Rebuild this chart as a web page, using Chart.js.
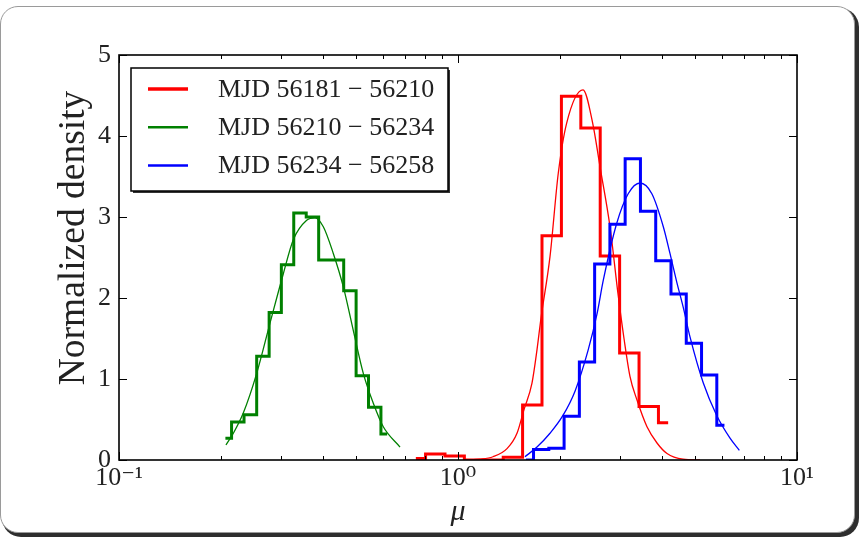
<!DOCTYPE html>
<html>
<head>
<meta charset="utf-8">
<script src="https://cdn.jsdelivr.net/npm/chart.js@4.4.0/dist/chart.umd.min.js"></script>
<style>
    html, body { margin: 0; padding: 0; background: #fff; }
    #wrap { position: relative; width: 861px; height: 540px; overflow: hidden; }
    #card {
        position: absolute; left: 0; top: 6px; width: 853px; height: 525px;
        border: 1px solid #9a9a9a; border-radius: 18px;
        box-shadow: 3px 3px 0 1px #2e2e2e; background: #fff;
    }
    canvas { position: absolute; left: 0; top: 0; }
</style>
</head>
<body>
<div id="wrap">
    <div id="card"></div>
    <canvas id="chart" width="861" height="540"></canvas>
</div>
<script>
// histogram bin centres (mu) and normalized density, step drawn at mid-points
const redCentres = [0.751, 0.857, 0.978, 1.115, 1.273, 1.452, 1.656, 1.890, 2.156, 2.460, 2.806, 3.202, 3.653, 4.168];
const redDensity = [0.02, 0.075, 0.05, 0, 0, 0.035, 0.68, 2.77, 4.49, 4.10, 2.52, 1.32, 0.66, 0.46];

const greenCentres = [0.206, 0.224, 0.244, 0.266, 0.289, 0.314, 0.342, 0.372, 0.405, 0.441, 0.480, 0.522, 0.568, 0.618];
const greenDensity = [0.27, 0.47, 0.56, 1.28, 1.82, 2.41, 3.05, 3.00, 2.47, 2.47, 2.09, 1.04, 0.65, 0.32];

const blueCentres = [1.586, 1.759, 1.952, 2.165, 2.402, 2.664, 2.955, 3.278, 3.637, 4.034, 4.475, 4.965, 5.507, 6.109];
const blueDensity = [0, 0.13, 0.145, 0.54, 1.21, 2.42, 2.91, 3.72, 3.07, 2.46, 2.05, 1.44, 1.05, 0.43];

// fitted curves
const redFitX = [1.056, 1.161, 1.268, 1.395, 1.493, 1.565, 1.653, 1.710, 1.757, 1.868, 1.976, 2.092, 2.338, 2.496, 2.624, 2.808, 2.965, 3.088, 3.217, 3.373, 3.610, 3.864, 4.136, 4.610, 5.174];
const redFitY = [0.0, 0.01, 0.04, 0.14, 0.33, 0.62, 0.95, 1.36, 1.75, 2.51, 3.54, 4.16, 4.57, 4.16, 3.62, 2.88, 2.05, 1.50, 1.03, 0.74, 0.41, 0.21, 0.08, 0.01, 0.0];

const greenFitX = [0.2068, 0.2174, 0.2326, 0.2548, 0.2789, 0.3053, 0.3267, 0.3578, 0.3786, 0.4006, 0.4287, 0.4588, 0.4910, 0.5256, 0.5626, 0.6020, 0.6745];
const greenFitY = [0.185, 0.33, 0.58, 1.07, 1.69, 2.30, 2.72, 2.96, 2.99, 2.88, 2.55, 2.14, 1.60, 1.07, 0.70, 0.41, 0.16];

const blueFitX = [1.576, 1.710, 1.868, 2.040, 2.214, 2.418, 2.570, 2.683, 2.938, 3.180, 3.443, 3.728, 4.033, 4.220, 4.417, 4.620, 4.835, 5.292, 5.797, 6.345, 6.759];
const blueFitY = [0.04, 0.16, 0.33, 0.55, 0.85, 1.35, 1.80, 2.22, 2.92, 3.29, 3.42, 3.29, 2.88, 2.55, 2.20, 1.88, 1.52, 0.95, 0.55, 0.27, 0.12];

const legendLabels = ["MJD 56181 \u2212 56210", "MJD 56210 \u2212 56234", "MJD 56234 \u2212 56258"];
const xTickValues = [0.1, 0.2, 0.3, 0.4, 0.5, 0.6, 0.7, 0.8, 0.9, 1, 2, 3, 4, 5, 6, 7, 8, 9, 10];
const xTickLabels = { 0.1: "10\u207B\u00B9", 1: "10\u2070", 10: "10\u00B9" };
const yTickValues = [0, 1, 2, 3, 4, 5];
const yTitle = "Normalized density";

const RED = "#ff0000", GREEN = "#008000", BLUE = "#0000ff";
const SERIF = "'Liberation Serif', 'DejaVu Serif', serif";

const pts = (xs, ys) => xs.map((x, i) => ({ x, y: ys[i] }));

function hist(data, color, order) {
    return {
        data, borderColor: color, borderWidth: 3, stepped: "middle",
        pointRadius: 0, fill: false, borderJoinStyle: "miter", order,
    };
}
function fit(data, color, label, legendWidth, order) {
    return {
        label, data, borderColor: color, borderWidth: 1.3,
        cubicInterpolationMode: "monotone", pointRadius: 0, fill: false,
        legendWidth, order,
    };
}

// frame, inward ticks, y label and the legend box (matplotlib look)
const framePlugin = {
    id: "frame",
    afterDatasetsDraw(chart) {
        const { ctx, chartArea: a, scales: { x, y } } = chart;
        ctx.save();
        ctx.strokeStyle = "#000";
        ctx.lineWidth = 1;
        ctx.beginPath();
        x.ticks.forEach(t => {
            const px = Math.round(x.getPixelForValue(t.value)) + 0.5;
            const major = xTickLabels[t.value] !== undefined;
            const len = major ? 8 : 4;
            ctx.moveTo(px, a.bottom); ctx.lineTo(px, a.bottom - len);
            ctx.moveTo(px, a.top); ctx.lineTo(px, a.top + len);
        });
        y.ticks.forEach(t => {
            const py = Math.round(y.getPixelForValue(t.value)) + 0.5;
            ctx.moveTo(a.left, py); ctx.lineTo(a.left + 8, py);
            ctx.moveTo(a.right, py); ctx.lineTo(a.right - 8, py);
        });
        ctx.stroke();
        ctx.lineWidth = 1.6;
        ctx.strokeRect(a.left, a.top, a.right - a.left, a.bottom - a.top);

        // y axis label
        ctx.save();
        ctx.translate(74, 238);
        ctx.rotate(-Math.PI / 2);
        ctx.font = "37.5px " + SERIF;
        ctx.fillStyle = "#222";
        ctx.textAlign = "center";
        ctx.textBaseline = "middle";
        ctx.fillText(yTitle, 0, 0);
        ctx.restore();

        // legend
        const lx = a.left + 12, ly = a.top + 13, lw = 317, lh = 123;
        ctx.fillStyle = "#333";
        ctx.fillRect(lx + 2, ly + 2, lw, lh);
        ctx.fillStyle = "#fff";
        ctx.fillRect(lx, ly, lw, lh);
        ctx.lineWidth = 1.5;
        ctx.strokeRect(lx, ly, lw, lh);
        const items = chart.data.datasets.filter(d => d.label);
        ctx.font = "26px " + SERIF;
        ctx.textBaseline = "middle";
        ctx.textAlign = "left";
        items.forEach((d, i) => {
            const yy = ly + 21 + i * 38.3;
            ctx.strokeStyle = d.borderColor;
            ctx.lineWidth = d.legendWidth;
            ctx.beginPath();
            ctx.moveTo(lx + 17, yy); ctx.lineTo(lx + 57, yy);
            ctx.stroke();
            ctx.fillStyle = "#222";
            ctx.fillText(d.label, lx + 87, yy + 1);
        });
        ctx.restore();
    },
};

new Chart(document.getElementById("chart"), {
    type: "line",
    data: {
        datasets: [
            hist(pts(redCentres, redDensity), RED, 6),
            fit(pts(redFitX, redFitY), RED, legendLabels[0], 3.5, 5),
            hist(pts(greenCentres, greenDensity), GREEN, 4),
            fit(pts(greenFitX, greenFitY), GREEN, legendLabels[1], 2.5, 3),
            hist(pts(blueCentres, blueDensity), BLUE, 2),
            fit(pts(blueFitX, blueFitY), BLUE, legendLabels[2], 2.5, 1),
        ],
    },
    options: {
        responsive: false,
        animation: false,
        devicePixelRatio: 1,
        layout: { padding: { left: 0, top: 55, right: 64, bottom: 0 } },
        plugins: { legend: { display: false }, tooltip: { enabled: false } },
        scales: {
            x: {
                type: "logarithmic",
                min: 0.1,
                max: 10,
                afterBuildTicks: s => { s.ticks = xTickValues.map(v => ({ value: v })); },
                afterFit: s => { s.height = 80; },
                grid: { display: false, drawTicks: false },
                border: { display: false },
                ticks: {
                    autoSkip: false,
                    maxRotation: 0,
                    padding: 3,
                    color: "#222",
                    font: { family: SERIF, size: 26 },
                    callback: v => xTickLabels[v] ?? "",
                },
                title: {
                    display: true,
                    text: "\u03BC",
                    color: "#222",
                    font: { family: SERIF, size: 30, style: "italic" },
                    padding: { bottom: 10 },
                },
            },
            y: {
                min: 0,
                max: 5,
                afterBuildTicks: s => { s.ticks = yTickValues.map(v => ({ value: v })); },
                afterFit: s => { s.width = 119; },
                grid: { display: false, drawTicks: false },
                border: { display: false },
                ticks: {
                    padding: 8,
                    color: "#222",
                    font: { family: SERIF, size: 26 },
                },
            },
        },
    },
    plugins: [framePlugin],
});
</script>
</body>
</html>
